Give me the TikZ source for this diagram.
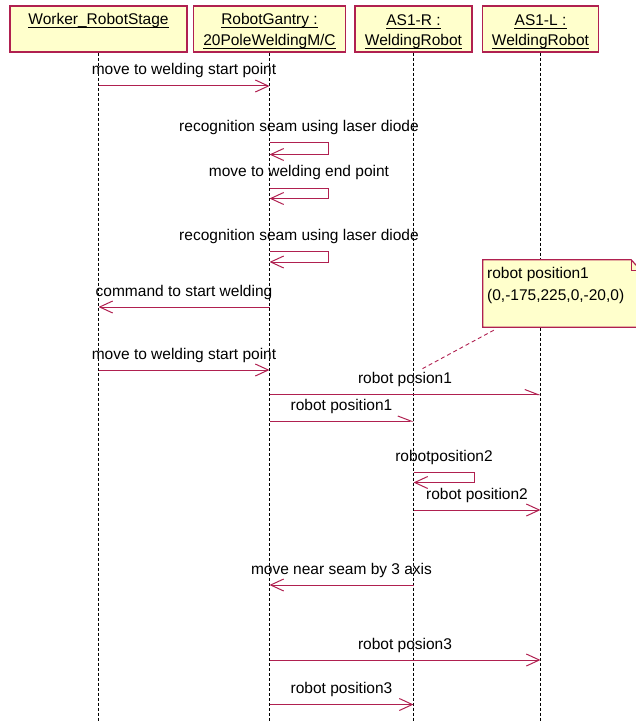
\documentclass[tikz,border=0pt]{standalone}
\usepackage{fontspec}
\setmainfont{Liberation Sans}
\usetikzlibrary{arrows.meta}
\definecolor{umlred}{RGB}{176,32,80}
\definecolor{umlfill}{RGB}{255,255,204}
\begin{document}
\begin{tikzpicture}[x=1pt,y=-1pt,
  font=\fontsize{15.5}{21}\selectfont,
  objbox/.style={draw=umlred, line width=1.2pt, fill=umlfill, inner sep=0, minimum height=46pt},
  objtext/.style={anchor=base, inner sep=0},
  uline/.style={draw=black, line width=0.8pt},
  life/.style={draw=black, line width=0.8pt, dash pattern=on 3pt off 2pt},
  msg/.style={draw=umlred, line width=1pt, -{Straight Barb[length=13pt,width=12pt,line width=1pt]}},
  amsg/.style={draw=umlred, line width=1pt, -{Straight Barb[left,length=13pt,width=10pt,line width=1pt]}},
  lbl/.style={midway, anchor=base, inner sep=0, yshift=11pt},
  notelink/.style={draw=umlred, line width=0.9pt, dash pattern=on 4pt off 3pt}]
\clip (0,0) rectangle (636,722);

% object headers
\node[objbox, minimum width=177pt] (hdr1) at (98.5,29) {};
\node[objbox, minimum width=152pt] (hdr2) at (269.5,29) {};
\node[objbox, minimum width=117pt] (hdr3) at (413.5,29) {};
\node[objbox, minimum width=116pt] (hdr4) at (540.5,29) {};
\node[objtext] (t1) at (hdr1.center |- 0,25) {Worker\_RobotStage};
\node[objtext] (t2a) at (hdr2.center |- 0,25) {RobotGantry :\ };
\node[objtext] (t2b) at (hdr2.center |- 0,46) {20PoleWeldingM/C};
\node[objtext] (t3a) at (hdr3.center |- 0,26) {AS1-R :\ };
\node[objtext] (t3b) at (hdr3.center |- 0,46) {WeldingRobot};
\node[objtext] (t4a) at (hdr4.center |- 0,26) {AS1-L :\ };
\node[objtext] (t4b) at (hdr4.center |- 0,46) {WeldingRobot};
% underlines of the object names
\foreach \t in {t1,t2a,t2b,t3a,t3b,t4a,t4b}
  \draw[uline] ([yshift=-2.5pt]\t.base west) -- ([yshift=-2.5pt]\t.base east);

% lifelines
\foreach \h in {hdr1,hdr2,hdr3,hdr4}
  \draw[life] (\h.south) -- (\h.south |- 0,724);

% messages
\draw[msg] (hdr1.south |- 0,86) -- node[lbl]{move to welding start point} (hdr2.south |- 0,86);
\draw[msg] (hdr2.south |- 0,143) -- node[lbl]{recognition seam using laser diode} ++(59,0) -- ++(0,11.5) -- (hdr2.south |- 0,154.5);
\draw[msg] (hdr2.south |- 0,188) -- node[lbl]{move to welding end point} ++(59,0) -- ++(0,10.5) -- (hdr2.south |- 0,198.5);
\draw[msg] (hdr2.south |- 0,251) -- node[lbl]{recognition seam using laser diode} ++(59,0) -- ++(0,11) -- (hdr2.south |- 0,262);
\draw[msg] (hdr2.south |- 0,307) -- node[lbl]{command to start welding} (hdr1.south |- 0,307);
\draw[msg] (hdr1.south |- 0,370) -- node[lbl]{move to welding start point} (hdr2.south |- 0,370);
\draw[amsg] (hdr2.south |- 0,394.5) -- node[lbl]{robot posion1} (hdr4.south |- 0,394.5);
\draw[amsg] (hdr2.south |- 0,421) -- node[lbl]{robot position1} (hdr3.south |- 0,421);
\draw[msg] (hdr3.south |- 0,472) -- node[lbl]{robotposition2} ++(61,0) -- ++(0,10.5) -- (hdr3.south |- 0,482.5);
\draw[msg] (hdr3.south |- 0,510) -- node[lbl]{robot position2} (hdr4.south |- 0,510);
\draw[msg] (hdr3.south |- 0,585) -- node[lbl]{move near seam by 3 axis} (hdr2.south |- 0,585);
\draw[msg] (hdr2.south |- 0,660) -- node[lbl]{robot posion3} (hdr4.south |- 0,660);
\draw[msg] (hdr2.south |- 0,704.5) -- node[lbl]{robot position3} (hdr3.south |- 0,704.5);

% note with folded corner
\node[inner sep=0, minimum width=158pt, minimum height=67pt] (note) at (562,293.5) {};
\draw[draw=umlred, line width=1.2pt, fill=umlfill]
  (note.south west) -- (note.north west) -- ([xshift=-10pt]note.north east)
  -- ([yshift=-11pt]note.north east) -- (note.south east) -- cycle;
\draw[draw=umlred, line width=1pt]
  ([xshift=-10pt]note.north east) -- ([xshift=-10pt,yshift=-11pt]note.north east)
  -- ([yshift=-11pt]note.north east);
\node[anchor=base west, inner sep=0] (n1) at (487,278) {robot position1};
\node[anchor=base west, inner sep=0] (n2) at (487,300) {(0,-175,225,0,-20,0)};
\coordinate (notetip) at (420,370);
\draw[notelink] ([xshift=11pt,yshift=-3pt]note.south west) -- (notetip);
\end{tikzpicture}
\end{document}
